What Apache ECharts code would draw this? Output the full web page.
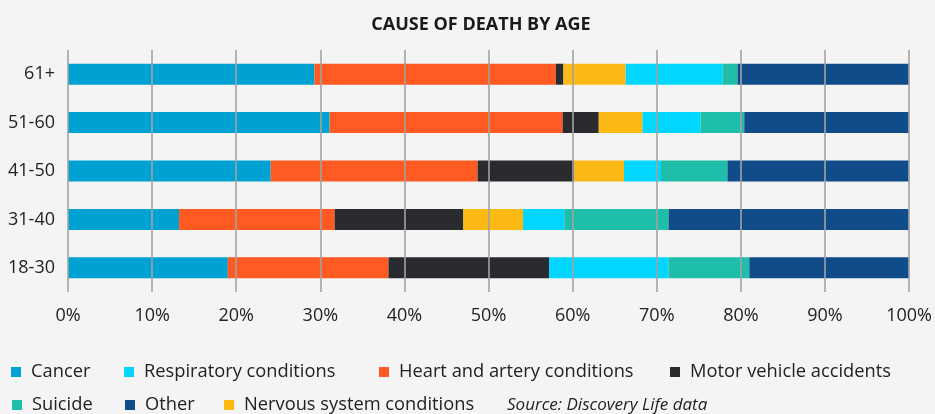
<!DOCTYPE html>
<html>
<head>
<meta charset="utf-8">
<script src="https://cdn.jsdelivr.net/npm/echarts@6/dist/echarts.min.js"></script>
<style>
html,body{margin:0;padding:0;background:#f4f4f4;}
#chart{width:935px;height:414px;}
</style>
</head>
<body>
<div id="chart"></div>
<script>
const categories = ['18-30', '31-40', '41-50', '51-60', '61+'];
const xTicks = [0, 10, 20, 30, 40, 50, 60, 70, 80, 90, 100];
const cancer      = [19.0, 13.2, 24.1, 31.1, 29.3];
const heart       = [19.1, 18.5, 24.6, 27.7, 28.7];
const motor       = [19.1, 15.3, 11.5, 4.3, 0.9];
const nervous     = [0.0, 7.1, 5.9, 5.2, 7.4];
const respiratory = [14.2, 4.9, 4.4, 6.9, 11.5];
const suicide     = [9.6, 12.4, 7.9, 5.2, 1.8];
const other       = [19.0, 28.6, 21.6, 19.6, 20.4];

const seriesDefs = [
  {name: 'Cancer', data: cancer, color: '#00a1d3'},
  {name: 'Heart and artery conditions', data: heart, color: '#ff5a22'},
  {name: 'Motor vehicle accidents', data: motor, color: '#2a2b2e'},
  {name: 'Nervous system conditions', data: nervous, color: '#fcb813'},
  {name: 'Respiratory conditions', data: respiratory, color: '#00d6ff'},
  {name: 'Suicide', data: suicide, color: '#1ebeaa'},
  {name: 'Other', data: other, color: '#114c8a'}
];

const FONT = '"Open Sans", "Noto Sans", sans-serif';
const legendPos = [
  {name: 'Cancer', left: 11, top: 362},
  {name: 'Respiratory conditions', left: 124, top: 362},
  {name: 'Heart and artery conditions', left: 379, top: 362},
  {name: 'Motor vehicle accidents', left: 670, top: 362},
  {name: 'Suicide', left: 12, top: 395},
  {name: 'Other', left: 125, top: 395},
  {name: 'Nervous system conditions', left: 224, top: 395}
];

const chart = echarts.init(document.getElementById('chart'));
chart.setOption({
  backgroundColor: '#f4f4f4',
  animation: false,
  title: {
    text: 'CAUSE OF DEATH BY AGE',
    left: 476, top: 11, textAlign: 'center',
    textStyle: {fontFamily: FONT, fontSize: 18, fontWeight: 'bold', color: '#1a1a1a'}
  },
  grid: {left: 68, right: 24, top: 50, bottom: 122},
  xAxis: {
    type: 'value', min: 0, max: 100, interval: 10, z: 5,
    axisLine: {show: false}, axisTick: {show: false},
    splitLine: {show: true, lineStyle: {color: '#a3a3a3', width: 1.6}},
    axisLabel: {formatter: v => xTicks.includes(v) ? v + '%' : '', margin: 15,
      fontFamily: FONT, fontSize: 18, color: '#222'}
  },
  yAxis: {
    type: 'category', data: categories,
    axisLine: {show: false}, axisTick: {show: false},
    axisLabel: {margin: 13, fontFamily: FONT, fontSize: 18, color: '#222'}
  },
  legend: legendPos.map(l => ({
    data: [l.name], left: l.left, top: l.top, padding: 0,
    icon: 'rect', itemWidth: 10, itemHeight: 10,
    textStyle: {fontFamily: FONT, fontSize: 18.3, color: '#222', padding: [0, 0, 0, 5], lineHeight: 20}
  })),
  graphic: [{
    type: 'text', left: 507, top: 395,
    style: {text: 'Source: Discovery Life data', fontFamily: FONT, fontSize: 17,
      fontStyle: 'italic', fill: '#222', lineHeight: 20}
  }],
  series: seriesDefs.map(s => ({
    name: s.name, type: 'bar', stack: 'total', data: s.data,
    barWidth: 21, itemStyle: {color: s.color}
  }))
});
</script>
</body>
</html>
